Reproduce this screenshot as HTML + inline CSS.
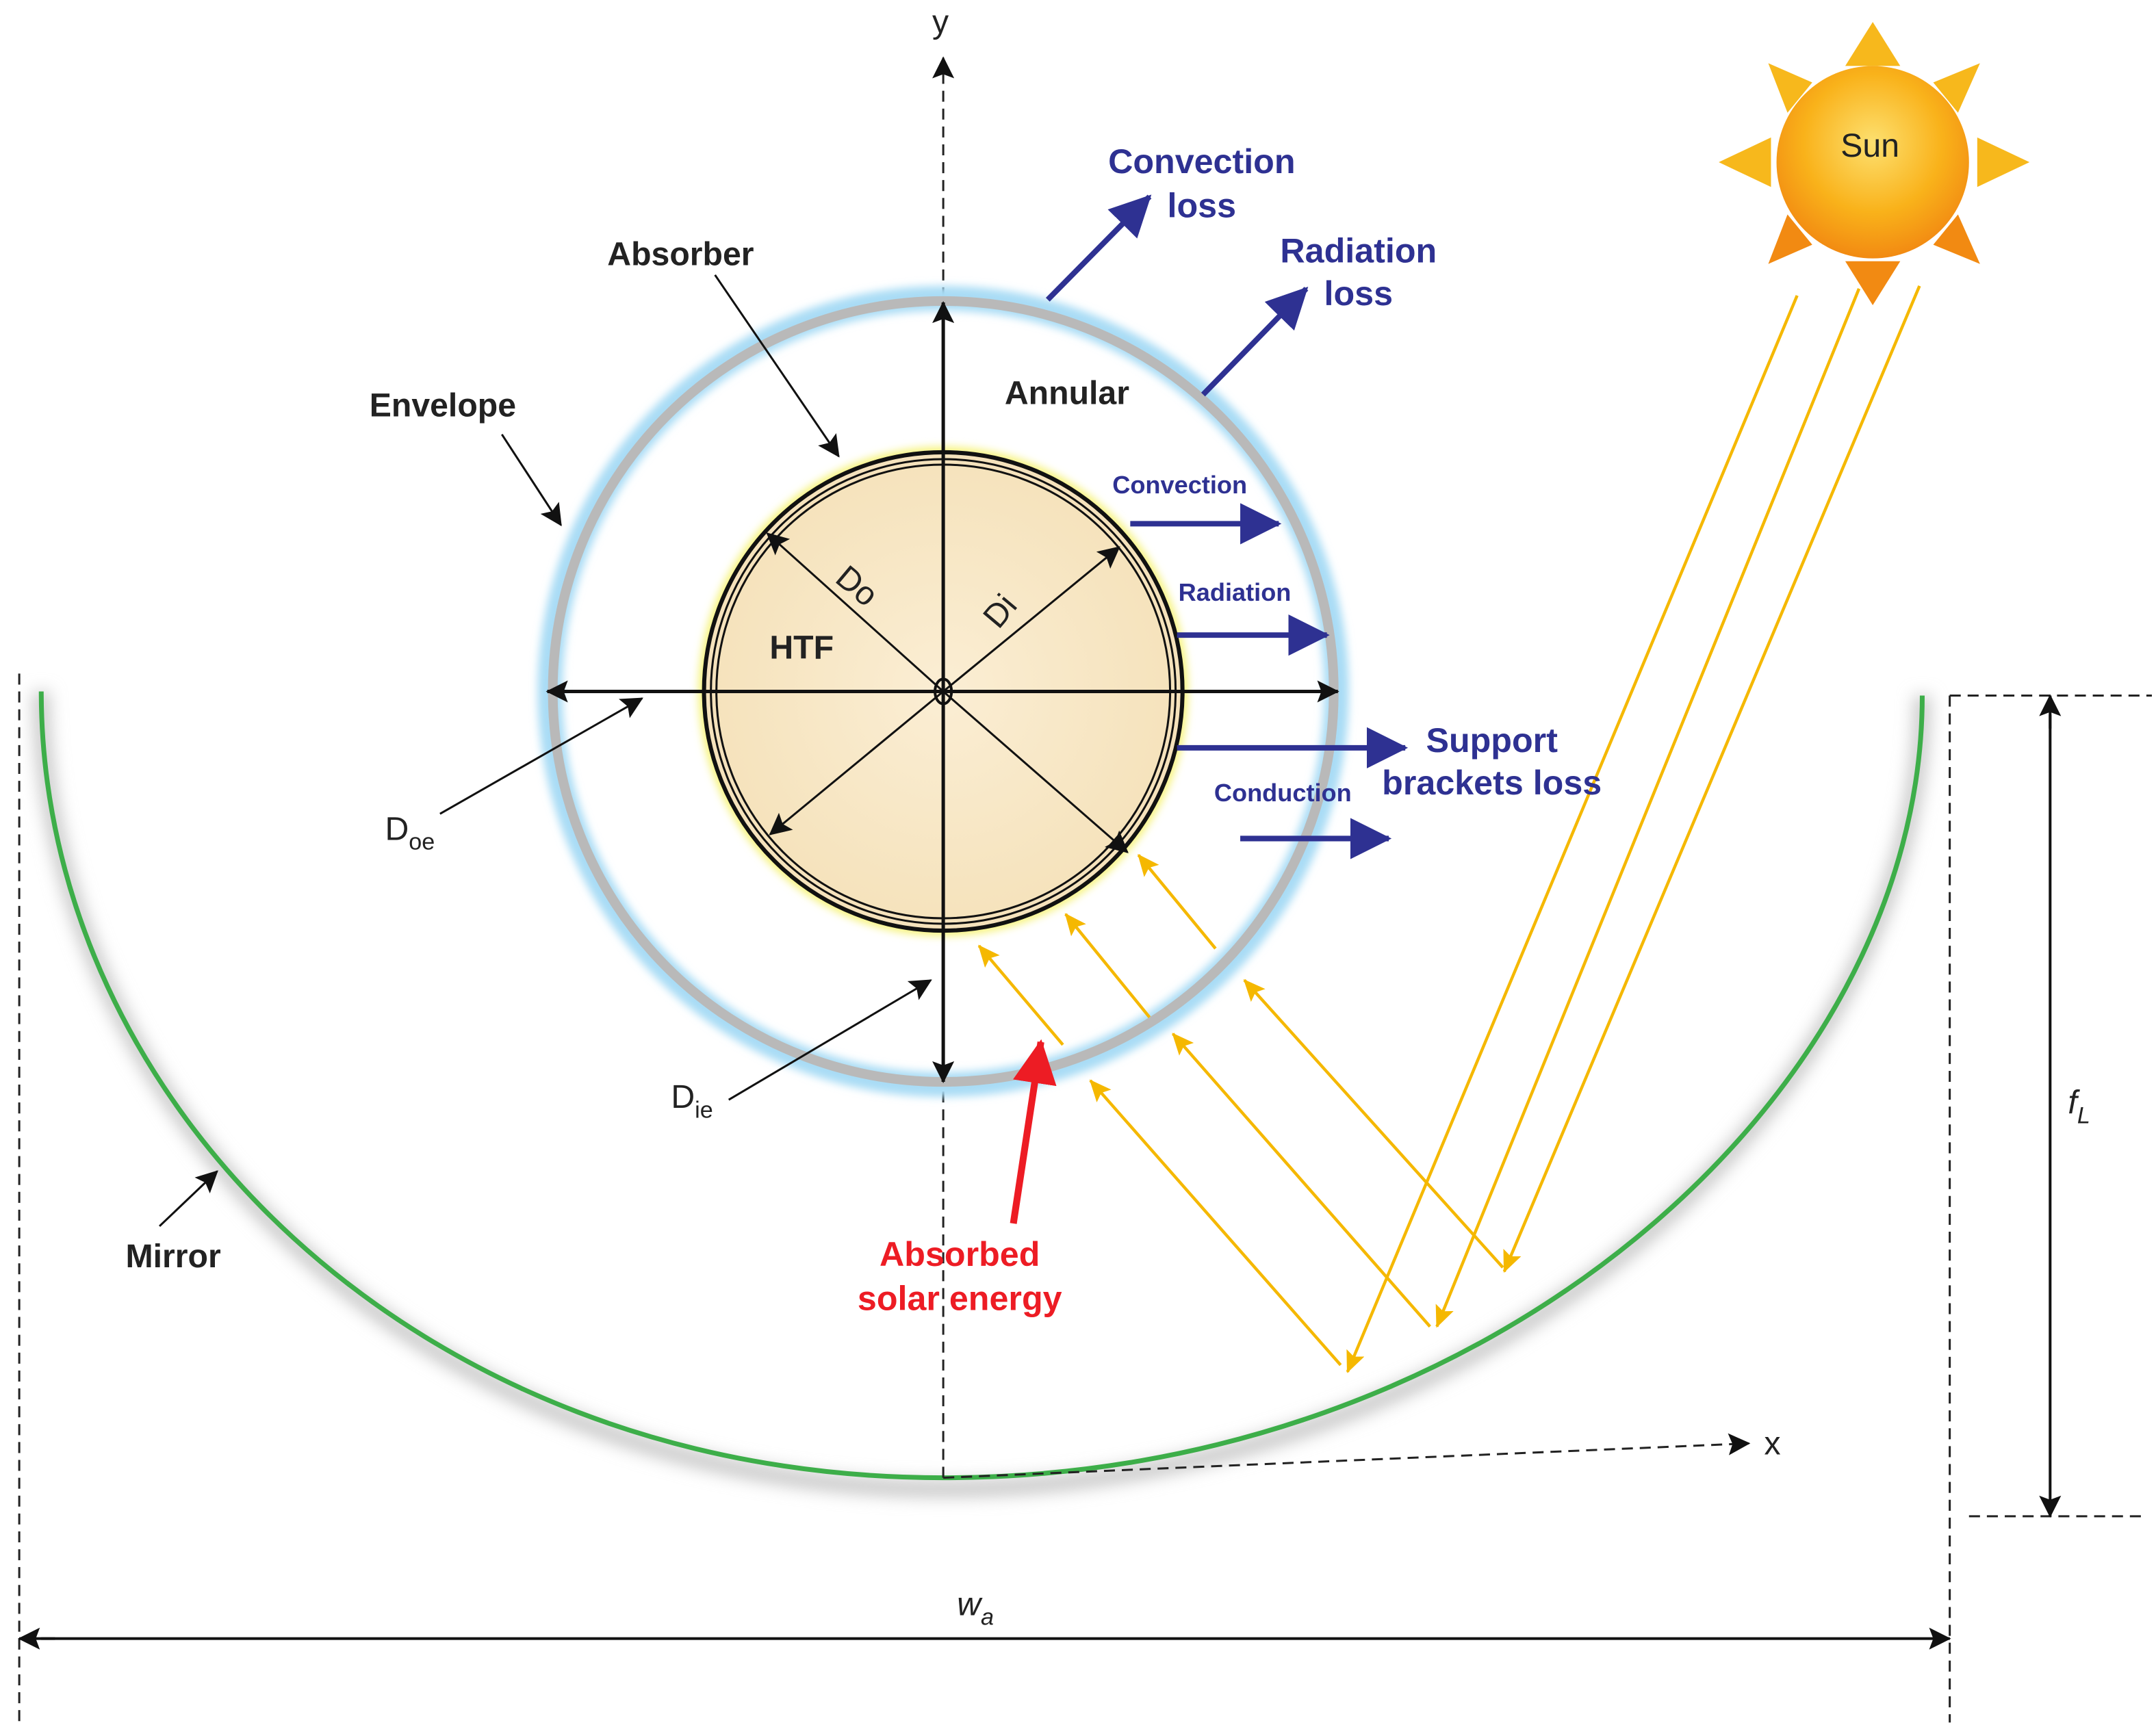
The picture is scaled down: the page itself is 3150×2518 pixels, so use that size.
<!DOCTYPE html>
<html><head><meta charset="utf-8"><style>
html,body{margin:0;padding:0;background:#fff;}
svg{display:block;}
text{font-family:"Liberation Sans",sans-serif;}
</style></head><body>
<svg width="3150" height="2518" viewBox="0 0 1568 1253.4" preserveAspectRatio="none" xmlns="http://www.w3.org/2000/svg">
<defs>
<marker id="abl" markerWidth="16" markerHeight="16" refX="15" refY="8" orient="auto" markerUnits="userSpaceOnUse"><path d="M0,0 L16,8 L0,16 L3,8 z" fill="#111"/></marker>
<marker id="ay" markerWidth="16" markerHeight="14" refX="15" refY="7" orient="auto" markerUnits="userSpaceOnUse"><path d="M0,0 L16,7 L0,14 L3,7 z" fill="#f5b800"/></marker>
<marker id="ablue" markerWidth="30" markerHeight="30" refX="28" refY="15" orient="auto" markerUnits="userSpaceOnUse"><path d="M0,0 L30,15 L0,30 z" fill="#2e3192"/></marker>
<marker id="ared" markerWidth="32" markerHeight="32" refX="30" refY="16" orient="auto" markerUnits="userSpaceOnUse"><path d="M0,0 L32,16 L0,32 z" fill="#ed1c24"/></marker>
<radialGradient id="sun" cx="50%" cy="40%" r="60%"><stop offset="0" stop-color="#fde070"/><stop offset="0.6" stop-color="#f9b21a"/><stop offset="1" stop-color="#f28a12"/></radialGradient>
<radialGradient id="htf" cx="50%" cy="50%" r="50%"><stop offset="0" stop-color="#fbeed4"/><stop offset="1" stop-color="#f5e2bb"/></radialGradient>
<filter id="blur"><feGaussianBlur stdDeviation="3"/></filter>
<filter id="blur2"><feGaussianBlur stdDeviation="6"/></filter>
</defs>

<path d="M30,503 C30,800 300,1083 686,1083 C1080,1083 1398,800 1398,506" fill="none" stroke="#c8c8c8" stroke-width="12" filter="url(#blur2)"/>
<path d="M30,503 C30,800 300,1075 686,1075 C1080,1075 1398,800 1398,506" fill="none" stroke="#3dae49" stroke-width="3.5"/>

<g stroke="#222" stroke-width="1.5" stroke-dasharray="8,5" fill="none">
<line x1="14" y1="490" x2="14" y2="1253"/>
<line x1="1418" y1="506" x2="1418" y2="1253"/>
<line x1="1418" y1="506" x2="1565" y2="506"/>
<line x1="1432" y1="1103" x2="1558" y2="1103"/>
<line x1="686" y1="1075" x2="686" y2="42" marker-end="url(#abl)"/>
<line x1="686" y1="1075" x2="1272" y2="1050" marker-end="url(#abl)"/>
</g>

<circle cx="686" cy="503" r="286" fill="none" stroke="#a9dcf5" stroke-width="18" filter="url(#blur)"/>
<circle cx="686" cy="503" r="284" fill="none" stroke="#b9b9b9" stroke-width="7"/>
<circle cx="686" cy="503" r="178" fill="#f6f37a" filter="url(#blur)"/>
<circle cx="686" cy="503" r="174" fill="url(#htf)" stroke="#111" stroke-width="3"/>
<circle cx="686" cy="503" r="169" fill="none" stroke="#111" stroke-width="1.5"/>
<circle cx="686" cy="503" r="165" fill="none" stroke="#111" stroke-width="1.5"/>
<ellipse cx="686" cy="503" rx="6" ry="9" fill="none" stroke="#111" stroke-width="2"/>

<g stroke="#111" stroke-width="2.5" fill="none">
<line x1="686" y1="503" x2="686" y2="220" marker-end="url(#abl)"/>
<line x1="686" y1="503" x2="686" y2="787" marker-end="url(#abl)"/>
<line x1="686" y1="503" x2="398" y2="503" marker-end="url(#abl)"/>
<line x1="686" y1="503" x2="973" y2="503" marker-end="url(#abl)"/>
</g>
<g stroke="#111" stroke-width="1.5" fill="none">
<line x1="686" y1="503" x2="558" y2="388" marker-end="url(#abl)"/>
<line x1="686" y1="503" x2="560" y2="607" marker-end="url(#abl)"/>
<line x1="686" y1="503" x2="814" y2="398" marker-end="url(#abl)"/>
<line x1="686" y1="503" x2="820" y2="620" marker-end="url(#abl)"/>
<line x1="520" y1="200" x2="610" y2="332" marker-end="url(#abl)"/>
<line x1="365" y1="316" x2="408" y2="382" marker-end="url(#abl)"/>
<line x1="320" y1="592" x2="467" y2="508" marker-end="url(#abl)"/>
<line x1="530" y1="800" x2="677" y2="713" marker-end="url(#abl)"/>
<line x1="116" y1="892" x2="158" y2="852" marker-end="url(#abl)"/>
</g>
<g stroke="#111" stroke-width="2" fill="none">
<line x1="1491" y1="530" x2="1491" y2="506" marker-end="url(#abl)"/>
<line x1="1491" y1="520" x2="1491" y2="1103" marker-end="url(#abl)"/>
<line x1="40" y1="1192" x2="14" y2="1192" marker-end="url(#abl)"/>
<line x1="30" y1="1192" x2="1418" y2="1192" marker-end="url(#abl)"/>
</g>

<g fill="#f7b81c">
<polygon points="1362,16 1342,48 1382,48"/>
<polygon points="1286,46 1300,82 1318,60"/>
<polygon points="1440,46 1406,60 1424,82"/>
<polygon points="1250,118 1288,100 1288,136"/>
<polygon points="1476,118 1438,100 1438,136"/>
<polygon points="1286,192 1300,156 1318,178" fill="#f28a12"/>
<polygon points="1440,192 1406,178 1424,156" fill="#f28a12"/>
<polygon points="1362,222 1342,190 1382,190" fill="#f28a12"/>
</g>
<circle cx="1362" cy="118" r="70" fill="url(#sun)"/>
<text x="1360" y="114" font-size="24" text-anchor="middle" fill="#222">Sun</text>

<g stroke="#f5b800" stroke-width="2.2" fill="none">
<line x1="1307" y1="215" x2="980" y2="998" marker-end="url(#ay)"/>
<line x1="1352" y1="210" x2="1045" y2="965" marker-end="url(#ay)"/>
<line x1="1396" y1="208" x2="1094" y2="925" marker-end="url(#ay)"/>
<line x1="975" y1="993" x2="793" y2="786" marker-end="url(#ay)"/>
<line x1="1040" y1="965" x2="853" y2="752" marker-end="url(#ay)"/>
<line x1="1093" y1="922" x2="905" y2="713" marker-end="url(#ay)"/>
<line x1="773" y1="760" x2="712" y2="688" marker-end="url(#ay)"/>
<line x1="836" y1="740" x2="775" y2="665" marker-end="url(#ay)"/>
<line x1="884" y1="690" x2="828" y2="622" marker-end="url(#ay)"/>
</g>

<line x1="737" y1="890" x2="757" y2="758" stroke="#ed1c24" stroke-width="5" marker-end="url(#ared)"/>

<g stroke="#2e3192" stroke-width="4" fill="none">
<line x1="762" y1="218" x2="836" y2="143" marker-end="url(#ablue)"/>
<line x1="875" y1="287" x2="950" y2="210" marker-end="url(#ablue)"/>
<line x1="822" y1="381" x2="930" y2="381" marker-end="url(#ablue)"/>
<line x1="856" y1="462" x2="965" y2="462" marker-end="url(#ablue)"/>
<line x1="856" y1="544" x2="1022" y2="544" marker-end="url(#ablue)"/>
<line x1="902" y1="610" x2="1010" y2="610" marker-end="url(#ablue)"/>
</g>

<g font-weight="bold" fill="#222" font-size="24" text-anchor="middle">
<text x="495" y="193">Absorber</text>
<text x="322" y="303">Envelope</text>
<text x="776" y="294">Annular</text>
<text x="583" y="479">HTF</text>
<text x="126" y="922">Mirror</text>
</g>
<g font-weight="bold" fill="#2e3192" text-anchor="middle">
<text x="874" y="126" font-size="25">Convection</text>
<text x="874" y="158" font-size="25">loss</text>
<text x="988" y="191" font-size="25">Radiation</text>
<text x="988" y="222" font-size="25">loss</text>
<text x="858" y="359" font-size="18">Convection</text>
<text x="898" y="437" font-size="18">Radiation</text>
<text x="1085" y="547" font-size="25">Support</text>
<text x="1085" y="578" font-size="25">brackets loss</text>
<text x="933" y="583" font-size="18">Conduction</text>
</g>
<g font-weight="bold" fill="#ed1c24" font-size="25" text-anchor="middle">
<text x="698" y="921">Absorbed</text>
<text x="698" y="953">solar energy</text>
</g>
<g fill="#222" font-size="24">
<text x="684" y="24" text-anchor="middle">y</text>
<text x="1283" y="1058">x</text>
<text x="608" y="432" transform="rotate(40 620 425)">Do</text>
<text x="712" y="452" transform="rotate(-50 726 440)">Di</text>
<text x="280" y="611">D<tspan font-size="17" dy="7">oe</tspan></text>
<text x="488" y="806">D<tspan font-size="17" dy="7">ie</tspan></text>
<text x="1504" y="810" font-style="italic">f<tspan font-size="17" dy="7">L</tspan></text>
<text x="696" y="1175" font-style="italic">w<tspan font-size="17" dy="7">a</tspan></text>
</g>
</svg>
</body></html>
